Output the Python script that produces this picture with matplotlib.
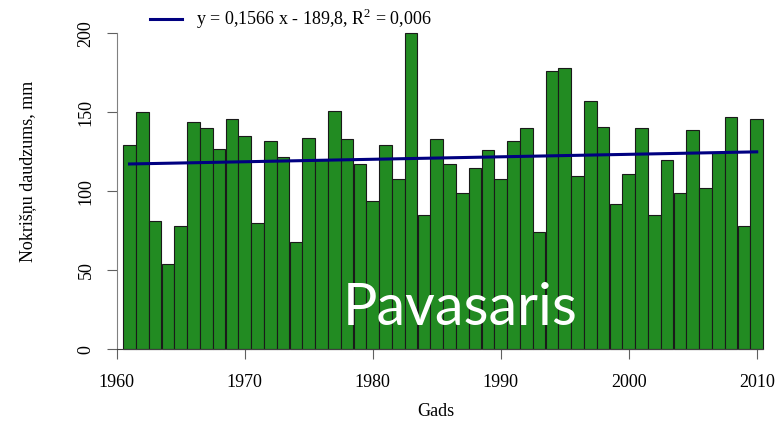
import numpy as np
import matplotlib
matplotlib.use("Agg")
from matplotlib import pyplot as plt

# pavasara nokrišņi pa gadiem
gadi = list(range(1961, 2011))
nokrisni = [129, 150, 81, 54, 78, 144, 140, 127, 146, 135,
            80, 132, 122, 68, 134, 120, 151, 133, 117, 94,
            129, 108, 200, 85, 133, 117, 99, 115, 126, 108,
            132, 140, 74, 176, 178, 110, 157, 141, 92, 111,
            140, 85, 120, 99, 139, 102, 125, 147, 78, 146]

# trenda koeficienti (no leģendas)
slope = 0.1566
intercept = -189.8
trend_label = "y = 0,1566 x - 189,8, R$^2$ = 0,006"

plt.rcParams['font.family'] = ['Liberation Serif', 'DejaVu Serif']
plt.rcParams['font.size'] = 13
plt.rcParams['mathtext.fontset'] = 'custom'
plt.rcParams['mathtext.rm'] = 'Liberation Serif'

fig = plt.figure(figsize=(7.75, 4.3), dpi=100)
ax = fig.add_axes([103.9/775, 80.7/430, 665.6/775, 316/430])

ax.bar(gadi, nokrisni, width=1.0, color='#228B22', edgecolor='#1a1a1a', linewidth=0.8)

x_tr = np.array([gadi[0], gadi[-1]])
line, = ax.plot(x_tr, slope*x_tr + intercept, color='#000080', linewidth=2.2)

ax.set_xlim(1959, 2011)
ax.set_ylim(0, 200)
for s in ['top', 'right']:
    ax.spines[s].set_visible(False)
ax.spines['left'].set_position(('data', 1960))
ax.spines['left'].set_bounds(0, 200)
ax.spines['bottom'].set_bounds(1960, 2010.5)
ax.spines['left'].set_color('#808080')
ax.spines['bottom'].set_color('#404040')
ax.set_xticks([1960, 1970, 1980, 1990, 2000, 2010])
ax.set_yticks([0, 50, 100, 150, 200])
ax.tick_params(axis='both', length=7, color='#606060', direction='out')
ax.tick_params(axis='x', pad=11)
ax.tick_params(axis='y', pad=9)
for lab in ax.get_yticklabels():
    lab.set_rotation(90)
    lab.set_va('center')

for b in ax.patches:
    b.set_clip_on(False)

fig.text(436/775, 1 - 412/430, "Gads", ha='center', va='center')
fig.text(28/775, 1 - 171/430, "Nokrišņu daudzums, mm", rotation=90, ha='center', va='center')

# leģenda
leg = fig.legend([line], [trend_label], loc='center left',
                 bbox_to_anchor=(150/775, 1 - 19/430), frameon=False,
                 handlelength=1.75, handletextpad=0.8, borderpad=0, borderaxespad=0)

fig.text(343/775, 1 - 325/430, "Pavasaris", color='white', fontsize=41.5,
         family=['Lato', 'DejaVu Sans'], ha='left', va='baseline')

fig.savefig("out.png", dpi=100)
